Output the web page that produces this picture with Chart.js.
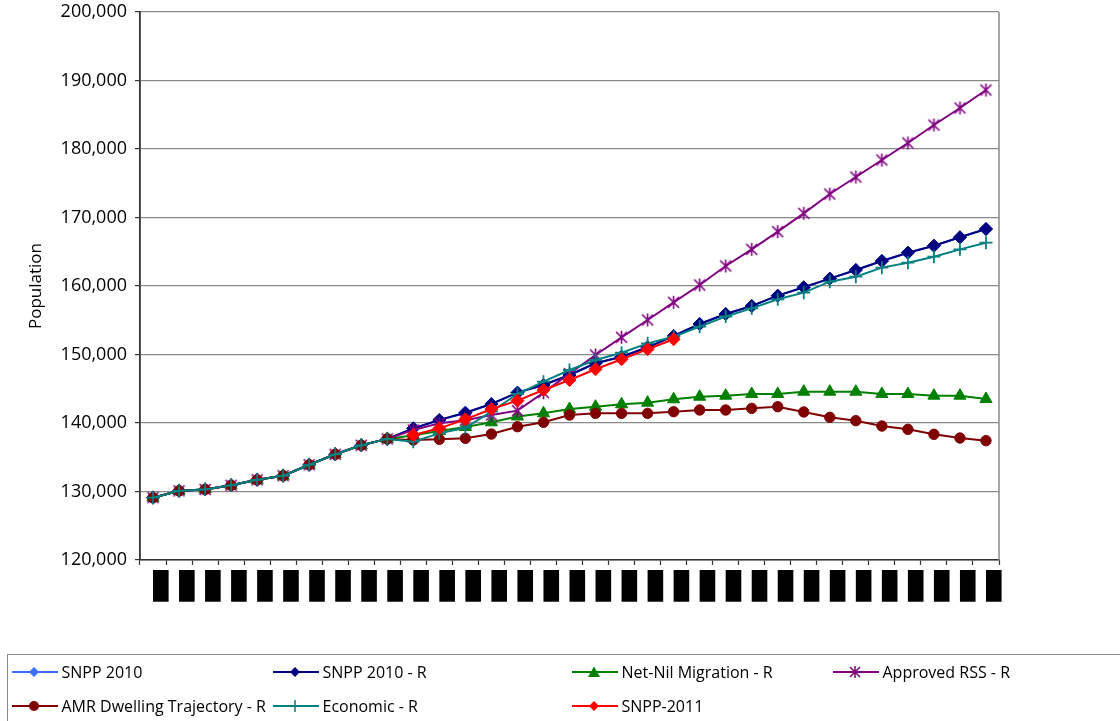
<!DOCTYPE html>
<html><head><meta charset="utf-8">
<script src="https://cdn.jsdelivr.net/npm/chart.js@4.4.1/dist/chart.umd.min.js"></script>
<style>
html,body{margin:0;padding:0;background:#fff;overflow:hidden;}
#wrap{position:absolute;left:0;top:0;width:1120px;height:721px;}
#legend{position:absolute;left:7px;top:654px;width:1130px;height:90px;border:1.5px solid #8a8a8a;box-sizing:border-box;font-family:'Open Sans';font-size:16px;color:#000;}
.item{position:absolute;height:20px;display:flex;align-items:center;white-space:nowrap;}
.item svg{margin-right:4px;flex:none}
</style></head><body>
<div id="wrap"><canvas id="c" width="1120" height="721"></canvas></div>
<div id="legend"></div>
<script>
const years = ['2001','2002','2003','2004','2005','2006','2007','2008','2009','2010','2011','2012','2013','2014','2015','2016','2017','2018','2019','2020','2021','2022','2023','2024','2025','2026','2027','2028','2029','2030','2031','2032','2033'];
const yTicks = [120000,130000,140000,150000,160000,170000,180000,190000,200000];

const snpp2010 = [null,null,null,null,null,null,null,null,null,137660,139220,140440,141500,142770,144430,145550,147010,148720,149680,151050,152700,154450,155910,157080,158590,159810,161070,162340,163650,164860,165880,167110,168320];
const snpp2010R = [129100,130100,130300,130900,131700,132300,133900,135430,136750,137680,139220,140440,141500,142770,144430,145550,147010,148720,149680,151050,152700,154450,155910,157080,158590,159810,161070,162340,163650,164860,165880,167110,168320];
const netNil = [129100,130100,130300,130900,131700,132300,133900,135430,136750,137680,138200,138830,139420,140100,140950,141410,142040,142380,142730,142970,143460,143840,143990,144230,144230,144570,144570,144570,144230,144230,143990,143990,143500];
const approvedRSS = [129100,130100,130300,130900,131700,132300,133900,135430,136750,137680,138980,139950,140400,141170,141800,144430,147200,149930,152510,155040,157620,160150,162920,165350,167930,170610,173430,175910,178390,180880,183500,185990,188610];
const amrDwelling = [129100,130100,130300,130900,131700,132300,133900,135430,136750,137680,137520,137620,137770,138390,139460,140100,141170,141410,141410,141410,141650,141900,141900,142140,142380,141610,140830,140340,139560,139080,138350,137810,137420];
const economic = [129100,130100,130300,130900,131700,132300,133900,135430,136750,137680,137270,138490,139310,141650,144230,146030,147740,149200,150260,151630,152600,154060,155550,156740,158060,159030,160630,161360,162680,163400,164280,165350,166320];
const snpp2011 = [null,null,null,null,null,null,null,null,null,null,138250,139220,140530,142040,143260,144820,146280,147840,149300,150760,152220,null,null,null,null,null,null,null,null,null,null,null,null];

const seriesNames = ['SNPP 2010','SNPP 2010 - R','Net-Nil Migration - R','Approved RSS - R','AMR Dwelling Trajectory - R','Economic - R','SNPP-2011'];
const seriesColors = ['#3d6dff','#000080','#008000','#800080','#800000','#008080','#ff0000'];
const seriesMarkers = ['diamond','diamond','triangle','asterisk','circle','cross','diamond'];
const seriesData = [snpp2010,snpp2010R,netNil,approvedRSS,amrDwelling,economic,snpp2011];

function asteriskImg(color){
  const c=document.createElement('canvas');c.width=15;c.height=15;
  const x=c.getContext('2d');x.strokeStyle=color;x.lineWidth=1.6;
  x.beginPath();x.moveTo(2,2);x.lineTo(13,13);x.moveTo(13,2);x.lineTo(2,13);x.moveTo(7.5,1);x.lineTo(7.5,14);x.stroke();
  return c;
}
function styleFor(m,color){
  if(m==='diamond') return {pointStyle:'rectRot',pointRadius:6.5};
  if(m==='triangle') return {pointStyle:'triangle',pointRadius:7};
  if(m==='circle') return {pointStyle:'circle',pointRadius:5.2};
  if(m==='cross') return {pointStyle:'cross',pointRadius:6.5,pointBorderWidth:1.8};
  if(m==='asterisk') return {pointStyle:asteriskImg(color),pointRadius:7};
}
const datasets = seriesNames.map((n,i)=>Object.assign({
  label:n,data:seriesData[i],borderColor:seriesColors[i],backgroundColor:seriesColors[i],
  pointBorderColor:seriesColors[i],pointBackgroundColor:seriesColors[i],borderWidth:2,pointBorderWidth:1,
  spanGaps:false,tension:0,order:seriesNames.length-1-i
},styleFor(seriesMarkers[i],seriesColors[i])));

const frame={id:'frame',beforeDatasetsDraw(ch){const a=ch.chartArea,x=ch.ctx;x.save();x.strokeStyle='#8a8a8a';x.lineWidth=1.5;x.beginPath();x.moveTo(a.right,a.top);x.lineTo(a.right,a.bottom);x.stroke();x.restore();}};

new Chart(document.getElementById('c'),{
  type:'line',
  data:{labels:years,datasets},
  plugins:[frame],
  options:{
    responsive:false,animation:false,
    layout:{padding:{top:12,right:121,left:0,bottom:0}},
    plugins:{legend:{display:false},tooltip:{enabled:false}},
    scales:{
      x:{offset:true,
        grid:{offset:true,drawOnChartArea:false,tickLength:5,tickColor:'#333',tickWidth:1.2},
        border:{color:'#333',width:1.5},
        ticks:{autoSkip:false,maxRotation:90,minRotation:90,padding:6,color:'#000',
          font:{family:'Open Sans',size:13},showLabelBackdrop:true,backdropColor:'#000',backdropPadding:{x:1,y:0}},
        afterFit(s){s.height=161;s.paddingLeft=0;s.paddingRight=0;}
      },
      y:{min:120000,max:200000,
        afterBuildTicks(s){s.ticks=yTicks.map(v=>({value:v}));},
        grid:{color:'#8a8a8a',lineWidth:1.2,tickLength:5,tickColor:'#333'},
        border:{color:'#333',width:1.8},
        ticks:{color:'#000',padding:8,font:{family:'Open Sans',size:18},callback:v=>v.toLocaleString('en-US')},
        title:{display:true,text:'Population',color:'#000',font:{family:'Open Sans',size:17},padding:{top:26,bottom:0}},
        afterFit(s){s.width=140;s.paddingTop=0;s.paddingBottom=0;}
      }
    }
  }
});

// HTML legend built from the series arrays
const lg=document.getElementById('legend');
const pos=[[3.5,7],[264.5,7],[563.5,7],[824.5,7],[3.5,41],[264.5,41],[563.5,41]];
function markerSvg(m,c){
  let s='';
  if(m==='diamond') s=`<polygon points="22,2 27,7 22,12 17,7" fill="${c}"/>`;
  if(m==='triangle') s=`<polygon points="22,1.5 28,12 16,12" fill="${c}"/>`;
  if(m==='circle') s=`<circle cx="22" cy="7" r="5" fill="${c}"/>`;
  if(m==='cross') s=`<path d="M22 1V13M16 7H28" stroke="${c}" stroke-width="1.5"/>`;
  if(m==='asterisk') s=`<path d="M17 2L27 12M27 2L17 12M22 1V13" stroke="${c}" stroke-width="1.5"/>`;
  return `<svg width="46" height="14" viewBox="0 0 46 14"><line x1="0" y1="7" x2="46" y2="7" stroke="${c}" stroke-width="2"/>${s}</svg>`;
}
seriesNames.forEach((n,i)=>{
  const d=document.createElement('div');d.className='item';
  d.style.left=pos[i][0]+'px';d.style.top=pos[i][1]+'px';
  d.innerHTML=markerSvg(seriesMarkers[i],seriesColors[i])+'<span></span>';
  d.querySelector('span').textContent=n;
  lg.appendChild(d);
});
</script>
</body></html>
